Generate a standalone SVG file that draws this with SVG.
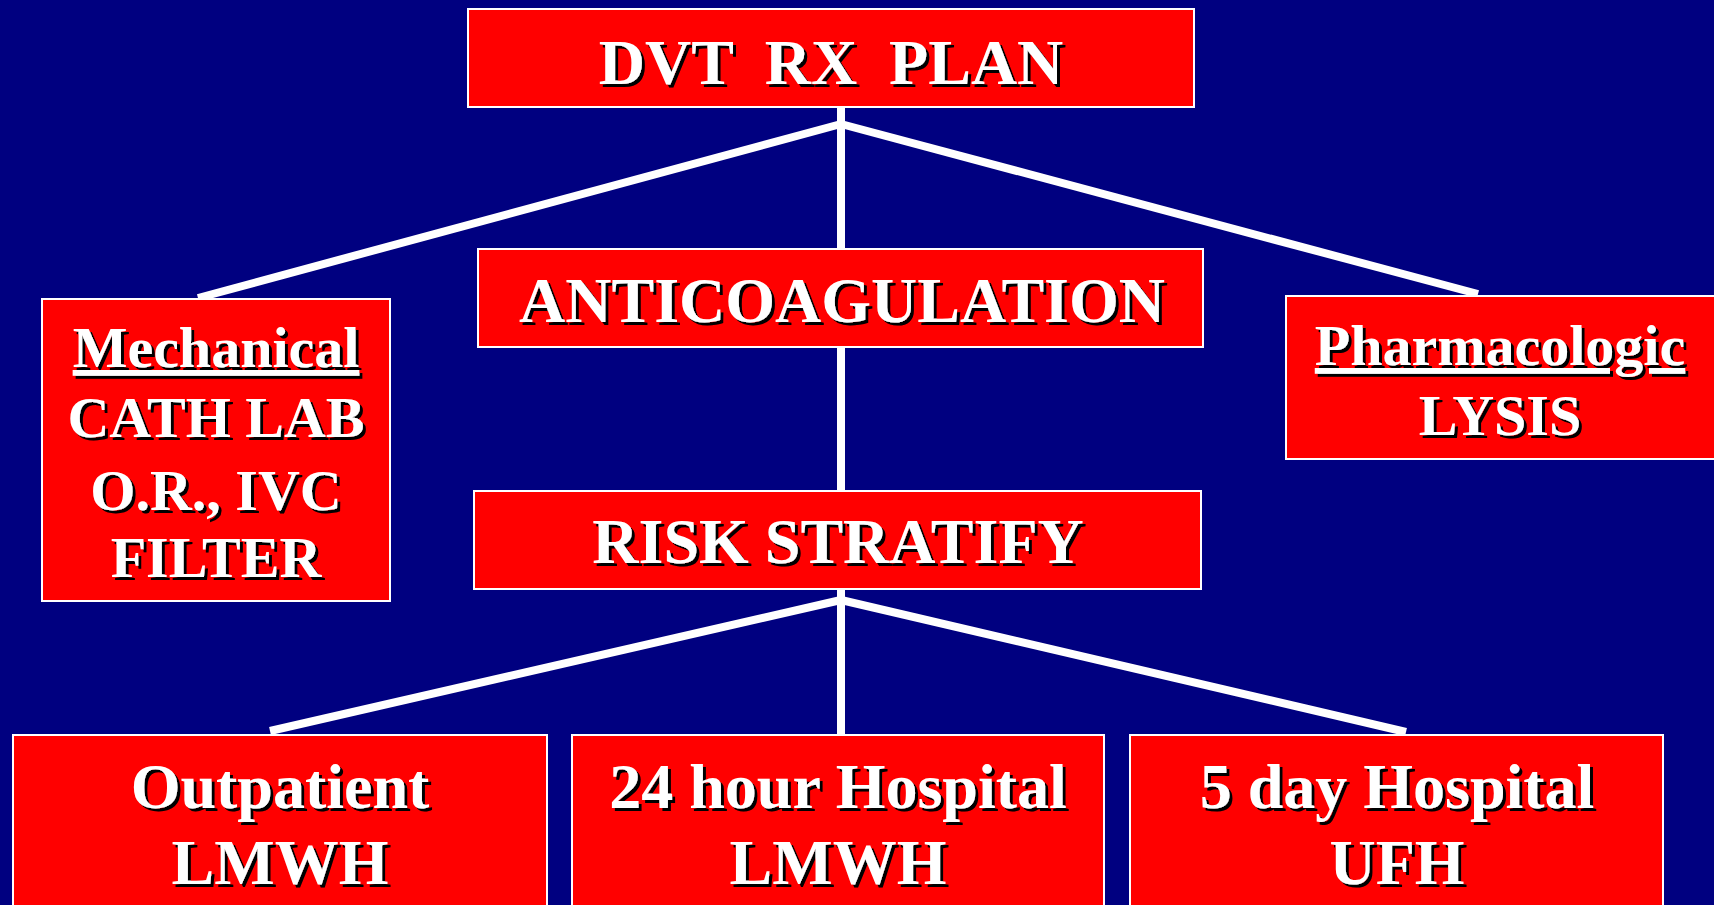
<svg xmlns="http://www.w3.org/2000/svg" width="1714" height="905" viewBox="0 0 1714 905">
<defs>
<filter id="sh" x="-5%" y="-20%" width="110%" height="140%">
<feDropShadow dx="3" dy="3" stdDeviation="0" flood-color="#000" flood-opacity="1"/>
</filter>
</defs>
<style>
.box{fill:#ff0000;stroke:#ffffff;stroke-width:2}
.t{font-family:"Liberation Serif","Times New Roman",serif;font-weight:bold;fill:#ffffff;text-anchor:middle;filter:url(#sh)}
.big{font-size:64px}
.mid{font-size:58px}
.u{text-decoration:underline}
.con line{stroke:#ffffff;stroke-width:8;stroke-linecap:butt}
</style>
<rect width="1714" height="905" fill="#000080"/>
<g id="connectors" class="con">
<line x1="841" y1="107" x2="841" y2="249"/>
<line x1="841" y1="124" x2="198" y2="298"/>
<line x1="841" y1="124" x2="1478" y2="294"/>
<line x1="841" y1="347" x2="841" y2="491"/>
<line x1="841" y1="589" x2="841" y2="735"/>
<line x1="841" y1="600" x2="270" y2="731"/>
<line x1="841" y1="600" x2="1406" y2="732"/>
</g>
<g id="dvt">
<rect class="box" x="468" y="9" width="726" height="98"/>
<text class="t big" x="831" y="84" xml:space="preserve">DVT  RX  PLAN</text>
</g>
<g id="anticoag">
<rect class="box" x="478" y="249" width="725" height="98"/>
<text class="t big" x="842" y="322">ANTICOAGULATION</text>
</g>
<g id="risk">
<rect class="box" x="474" y="491" width="727" height="98"/>
<text class="t big" x="838" y="563">RISK STRATIFY</text>
</g>
<g id="mechanical">
<rect class="box" x="42" y="299" width="348" height="302"/>
<text class="t mid u" x="216" y="367">Mechanical</text>
<text class="t mid" x="216" y="437">CATH LAB</text>
<text class="t mid" x="216" y="510">O.R., IVC</text>
<text class="t mid" x="216" y="577">FILTER</text>
</g>
<g id="pharmacologic">
<rect class="box" x="1286" y="296" width="440" height="163"/>
<text class="t mid u" x="1500" y="365">Pharmacologic</text>
<text class="t mid" x="1500" y="435">LYSIS</text>
</g>
<g id="outpatient">
<rect class="box" x="13" y="735" width="534" height="180"/>
<text class="t big" x="280" y="808">Outpatient</text>
<text class="t big" x="280" y="884">LMWH</text>
</g>
<g id="hosp24">
<rect class="box" x="572" y="735" width="532" height="180"/>
<text class="t big" x="838" y="808">24 hour Hospital</text>
<text class="t big" x="838" y="884">LMWH</text>
</g>
<g id="hosp5">
<rect class="box" x="1130" y="735" width="533" height="180"/>
<text class="t big" x="1397" y="808">5 day Hospital</text>
<text class="t big" x="1397" y="884">UFH</text>
</g>
</svg>
